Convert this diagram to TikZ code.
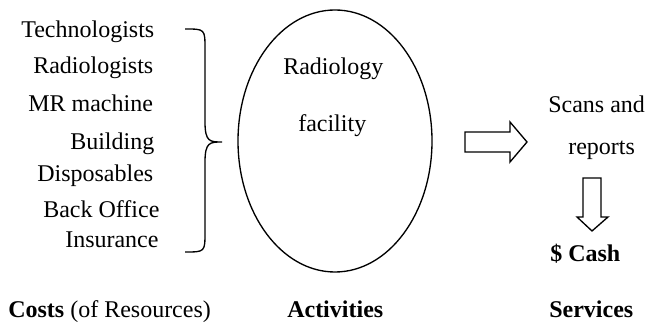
\documentclass[tikz,border=0pt]{standalone}
\usepackage{fontspec}
\setmainfont{Liberation Serif}
\tikzset{
  item/.style={anchor=base west,inner sep=0pt,font=\fontsize{18}{21}\selectfont},
  heading/.style={item,font=\fontsize{18}{21}\selectfont\bfseries},
  outline/.style={draw,line width=1pt,line join=miter},
}
\begin{document}
\begin{tikzpicture}[x=0.75pt,y=-0.75pt]
	\useasboundingbox (0,0) rectangle (648,323);
	% resources
	\node[item] (tech) at (21,38) {Technologists};
	\node[item] (radio) at (33,74) {Radiologists};
	\node[item] (mr) at (28,112) {MR machine};
	\node[item] (build) at (70,150) {Building};
	\node[item] (disp) at (37,182) {Disposables};
	\node[item] (back) at (43,218) {Back Office};
	\node[item] (insur) at (65,248) {Insurance};
	% brace
	\coordinate (tip) at (222,142);
	\draw[outline] (185,29) .. controls (205,29) .. (205,49) -- (205,122)
		.. controls (205,142) and (210,142) .. (tip)
		.. controls (210,142) and (205,142) .. (205,162) -- (205,232)
		.. controls (205,252) .. (185,252);
	% activity
	\coordinate (fac) at (335,141);
	\draw[outline] (fac) ellipse [x radius=97, y radius=131];
	\node[item] (radfac) at (283,75) {Radiology};
	\node[item] (facil) at (298,132) {facility};
	% block arrows
	\draw[outline] (465,132) -- (510,132) -- (510,122) -- (527,142) -- (510,162) -- (510,152) -- (465,152) -- cycle;
	\draw[outline] (583,178) -- (601,178) -- (601,217) -- (608,217) -- (592,231) -- (577,217) -- (583,217) -- cycle;
	% services
	\node[item] (scans) at (548,113) {Scans and};
	\node[item] (rep) at (568,155) {reports};
	\node[heading] (cash) at (550,262) {\$ Cash};
	% headings
	\node[item] (costs) at (8,317) {\textbf{Costs} (of Resources)};
	\node[heading] (act) at (287,317) {Activities};
	\node[heading] (serv) at (549,317) {Services};
\end{tikzpicture}
\end{document}
